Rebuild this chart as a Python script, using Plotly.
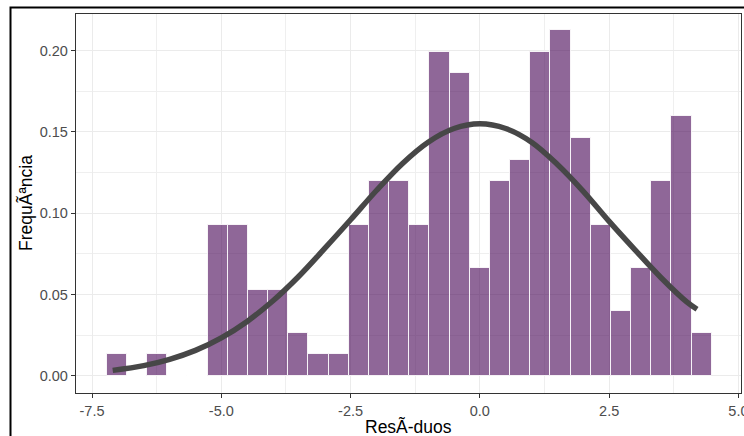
import plotly.graph_objects as go

# ---- data ----
bin_centers = [-7.02, -6.63, -6.24, -5.85, -5.46, -5.07, -4.68, -4.29, -3.90, -3.51,
               -3.12, -2.73, -2.34, -1.95, -1.56, -1.17, -0.78, -0.39, 0.00, 0.39,
               0.78, 1.17, 1.56, 1.95, 2.34, 2.73, 3.12, 3.51, 3.90, 4.29]
bin_width = 0.39
densities = [0.0133, 0.0, 0.0133, 0.0, 0.0, 0.0930, 0.0930, 0.0531, 0.0531, 0.0266,
             0.0133, 0.0133, 0.0930, 0.1196, 0.1196, 0.0930, 0.1993, 0.1860, 0.0664, 0.1196,
             0.1329, 0.1993, 0.2126, 0.1462, 0.0930, 0.0399, 0.0664, 0.1196, 0.1595, 0.0266]

curve_x = [-7.1, -6.5, -6.0, -5.5, -5.0, -4.5, -4.0, -3.5, -3.0, -2.5, -2.0, -1.5,
           -1.0, -0.5, 0.0, 0.5, 1.0, 1.5, 2.0, 2.5, 3.0, 3.5, 4.0, 4.2]
curve_y = [0.0034, 0.0063, 0.0102, 0.0157, 0.0234, 0.0335, 0.0462, 0.0613, 0.0784,
           0.0960, 0.1140, 0.1305, 0.1437, 0.1521, 0.1550, 0.1521, 0.1437, 0.1300,
           0.1135, 0.0950, 0.0775, 0.0605, 0.0455, 0.0410]

x_ticks = [-7.5, -5.0, -2.5, 0.0, 2.5, 5.0]
x_tick_labels = ["-7.5", "-5.0", "-2.5", "0.0", "2.5", "5.0"]
x_minor = [-6.25, -3.75, -1.25, 1.25, 3.75]
y_ticks = [0.00, 0.05, 0.10, 0.15, 0.20]
y_tick_labels = ["0.00", "0.05", "0.10", "0.15", "0.20"]
y_minor = [0.025, 0.075, 0.125, 0.175]

x_label = "ResÃ-duos"
y_label = "FrequÃªncia"

# ---- figure ----
W, H = 744, 436
ML, MR, MT, MB = 76, 3, 14, 43
pw, ph = W - ML - MR, H - MT - MB

fig = go.Figure()
fig.add_trace(go.Bar(
    x=bin_centers, y=densities, width=[bin_width] * len(bin_centers),
    marker=dict(color="rgba(68,1,84,0.6)", line=dict(color="rgba(255,255,255,0.85)", width=1)),
    showlegend=False, hoverinfo="x+y",
))
fig.add_trace(go.Scatter(
    x=curve_x, y=curve_y, mode="lines",
    line=dict(color="#474747", width=5.5, shape="spline", smoothing=1.0),
    showlegend=False,
))

FONT = "Liberation Sans, Arial, sans-serif"
tickfont = dict(family=FONT, size=14.5, color="#4D4D4D")
titlefont = dict(family=FONT, size=17.5, color="#000000")

fig.update_layout(
    width=W, height=H,
    margin=dict(l=ML, r=MR, t=MT, b=MB, pad=0, autoexpand=False),
    paper_bgcolor="white", plot_bgcolor="white",
    bargap=0,
    xaxis=dict(
        range=[-7.81, 5.05], tickmode="array", tickvals=x_ticks, ticktext=x_tick_labels,
        ticks="outside", ticklen=4, tickwidth=1, tickcolor="#333333",
        showline=True, mirror=True, linecolor="#333333", linewidth=1.3,
        showgrid=True, gridcolor="#EBEBEB", gridwidth=1.2, zeroline=False,
        minor=dict(tickmode="array", tickvals=x_minor, showgrid=True,
                   gridcolor="#EFEFEF", gridwidth=0.8, ticks=""),
        tickfont=tickfont, automargin=False, ticklabeloverflow="allow",
    ),
    yaxis=dict(
        range=[-0.0105, 0.2225], tickmode="array", tickvals=y_ticks, ticktext=y_tick_labels,
        ticks="outside", ticklen=4, tickwidth=1, tickcolor="#333333",
        showline=True, mirror=True, linecolor="#333333", linewidth=1.3,
        showgrid=True, gridcolor="#EBEBEB", gridwidth=1.2, zeroline=False,
        minor=dict(tickmode="array", tickvals=y_minor, showgrid=True,
                   gridcolor="#EFEFEF", gridwidth=0.8, ticks=""),
        tickfont=tickfont, automargin=False,
    ),
    annotations=[
        dict(text=x_label, xref="paper", yref="paper", x=(408 - ML) / pw,
             y=(H - MB - 426) / ph, xanchor="center", yanchor="middle",
             showarrow=False, font=titlefont),
        dict(text=y_label, xref="paper", yref="paper", x=(25 - ML) / pw,
             y=(H - MB - 203) / ph, xanchor="center", yanchor="middle",
             textangle=-90, showarrow=False, font=titlefont),
    ],
    shapes=[dict(
        type="rect", xref="paper", yref="paper", layer="above",
        x0=(10.5 - ML) / pw, x1=(770 - ML) / pw,
        y0=(H - MB - 460) / ph, y1=(H - MB - 7.5) / ph,
        line=dict(color="black", width=2), fillcolor="rgba(0,0,0,0)",
    )],
)

fig.write_html(
    "out.html",
    config={"displayModeBar": False},
    post_script="document.body.style.margin='0';document.body.style.padding='0';"
                "document.body.style.overflow='hidden';",
)
